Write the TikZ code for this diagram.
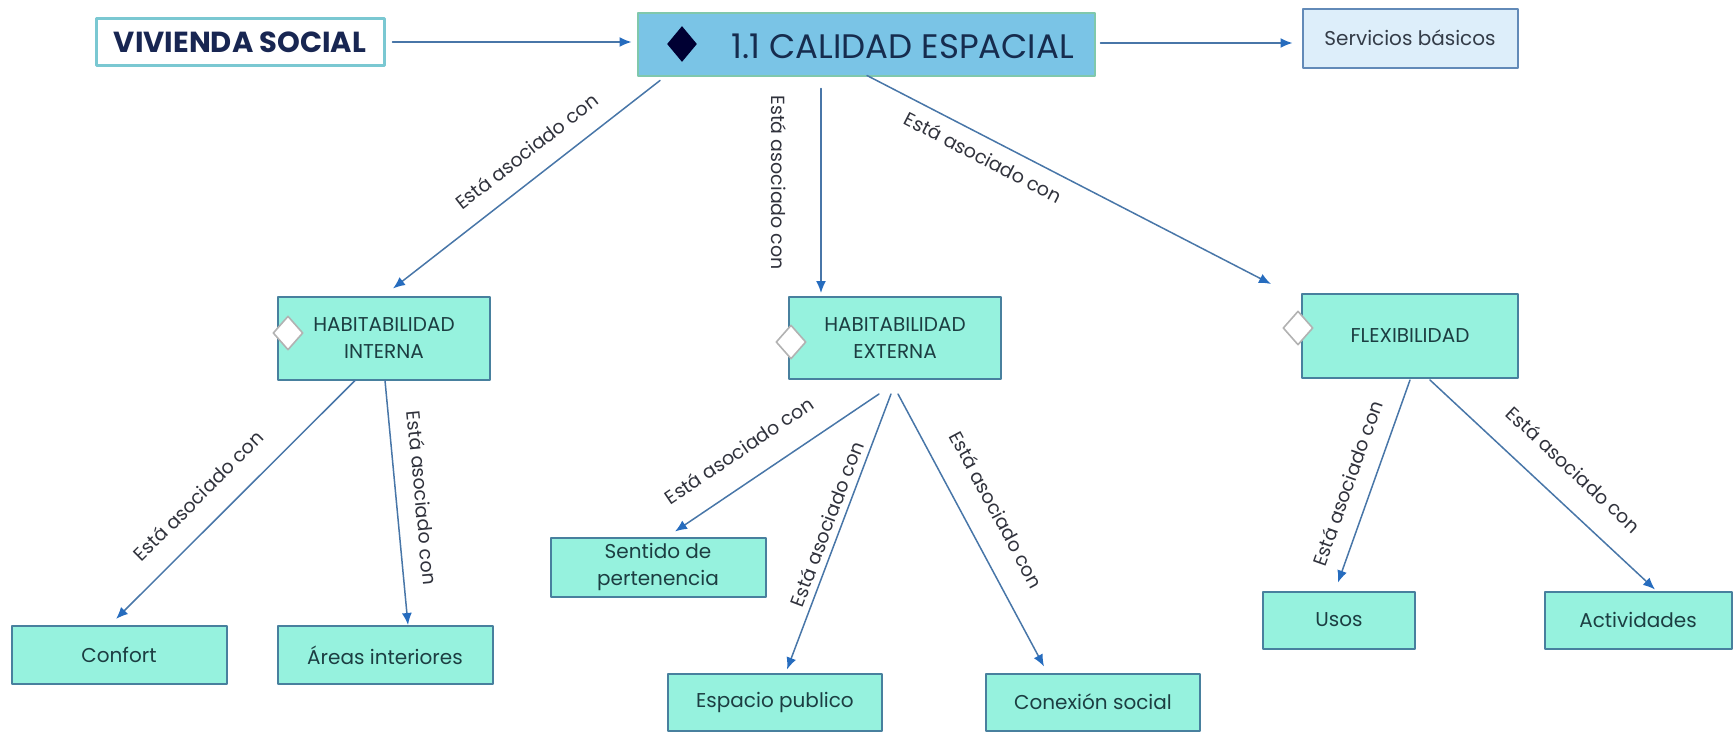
\documentclass[tikz,border=0pt]{standalone}
\usepackage{fontspec}
\setmainfont{Poppins}
\usetikzlibrary{arrows.meta}
\usetikzlibrary{shapes.geometric}
\usetikzlibrary{calc}

\definecolor{lineblue}{RGB}{72,118,168}
\definecolor{tipblue}{RGB}{38,108,190}
\definecolor{aqua}{RGB}{150,242,222}
\definecolor{boxedge}{RGB}{72,128,158}
\definecolor{tealtext}{RGB}{28,62,66}
\definecolor{calblue}{RGB}{122,196,230}
\definecolor{caledge}{RGB}{128,200,172}
\definecolor{caltext}{RGB}{22,44,78}
\definecolor{vivedge}{RGB}{122,200,210}
\definecolor{navy}{RGB}{24,38,82}
\definecolor{servfill}{RGB}{221,238,250}
\definecolor{servedge}{RGB}{98,138,184}
\definecolor{servtext}{RGB}{52,60,72}
\definecolor{labelgray}{RGB}{48,50,60}

\begin{document}
\begin{tikzpicture}[line cap=round,line join=round, x=0.5pt,y=-0.5pt,
  aquabox/.style={draw=boxedge, fill=aqua, line width=1pt, text=tealtext,
    font=\fontsize{10}{13.5}\selectfont, align=center, inner sep=0pt},
  opendiamond/.style={diamond, draw=black!30, fill=white, line width=0.8pt,
    minimum width=15pt, minimum height=17pt, inner sep=0pt},
  link/.style={draw=lineblue, line width=0.75pt,
    -{Latex[length=6pt, width=5pt, color=tipblue]}},
  rel/.style={font=\fontsize{9.5}{11}\selectfont, text=labelgray, inner sep=0pt, sloped}]
\useasboundingbox (0,0) rectangle (1736,734);

% top row
\node[draw=vivedge, line width=1.5pt, fill=white, minimum width=144pt, minimum height=23.5pt,
  font=\fontsize{14.5}{17}\selectfont\bfseries, text=navy] (viv) at (240,42) {VIVIENDA SOCIAL};
\node[fill=calblue, draw=caledge, line width=1pt, minimum width=228.5pt, minimum height=31.5pt] (cal) at (866,44) {};
\node[diamond, fill=black!80!blue, minimum width=15pt, minimum height=18pt, inner sep=0pt] (calmark) at (682,44) {};
\node[font=\fontsize{17}{20}\selectfont, text=caltext, anchor=west, inner sep=0pt] (caltxt) at (731,46) {1.1 CALIDAD ESPACIAL};
\node[fill=servfill, draw=servedge, line width=1pt, minimum width=107.5pt, minimum height=29.5pt,
  font=\fontsize{10}{12}\selectfont, text=servtext] (serv) at (1410,38) {Servicios básicos};

% second row
\node[aquabox, minimum width=106pt, minimum height=41.5pt] (habint) at (384,338) {HABITABILIDAD\\INTERNA};
\node[aquabox, minimum width=106pt, minimum height=41pt] (habext) at (895,338) {HABITABILIDAD\\EXTERNA};
\node[aquabox, minimum width=108pt, minimum height=42pt] (flex) at (1410,336) {FLEXIBILIDAD};
\node[opendiamond] (intmark) at ($(habint.west)+(11,-5)$) {};
\node[opendiamond] (extmark) at ($(habext.west)+(3,4)$) {};
\node[opendiamond] (flexmark) at ($(flex.west)+(-3,-8)$) {};

% bottom row
\node[aquabox, minimum width=107.5pt, minimum height=29pt] (confort) at (119,655) {Confort};
\node[aquabox, minimum width=107.5pt, minimum height=29pt] (areas) at (385,655) {Áreas interiores};
\node[aquabox, minimum width=107.5pt, minimum height=29.5pt] (sentido) at (658,567) {Sentido de\\pertenencia};
\node[aquabox, minimum width=107pt, minimum height=28.5pt] (espacio) at (775,702) {Espacio publico};
\node[aquabox, minimum width=107pt, minimum height=28.5pt] (conexion) at (1093,702) {Conexión social};
\node[aquabox, minimum width=76pt, minimum height=28.5pt] (usos) at (1339,620) {Usos};
\node[aquabox, minimum width=93.5pt, minimum height=28.5pt] (activ) at (1638,620) {Actividades};

% connectors
\draw[link] ($(viv.east)+(7,0)$) -- ($(cal.west |- viv.east)+(-5,0)$);
\draw[link] ($(cal.east)+(5,-1)$) -- ($(serv.west |- cal.east)+(-9,-1)$);
\draw[link] ($(cal.south)+(-206,4)$) -- node[rel, pos=.44, above=9pt] {Está asociado con} ($(habint.north)+(9,-7)$);
\draw[link] ($(cal.south)+(-45,12)$) -- node[rel, pos=.46, below=17pt] {Está asociado con} ($(habext.north)+(-74,-3)$);
\draw[link] ($(cal.south)+(1,-1)$) -- node[rel, pos=.31, below=5.5pt] {Está asociado con} ($(flex.north)+(-139,-9)$);
\draw[link] ($(habint.south)+(-29,0)$) -- node[rel, pos=.57, above=10.5pt] {Está asociado con} ($(confort.north)+(-3,-6)$);
\draw[link] ($(habint.south)+(1,0)$) -- node[rel, pos=.49, above=9pt] {Está asociado con} ($(areas.north)+(23,0)$);
\draw[link] ($(habext.south)+(-16,14)$) -- node[rel, pos=.6, above=11.5pt] {Está asociado con} ($(sentido.north)+(17,-5)$);
\draw[link] ($(habext.south)+(-4,14)$) -- node[rel, pos=.49, above=3pt] {Está asociado con} ($(espacio.north)+(12,-3)$);
\draw[link] ($(habext.south)+(3,14)$) -- node[rel, pos=.48, above=12pt] {Está asociado con} ($(conexion.north)+(-49,-6)$);
\draw[link] ($(flex.south)+(0,1)$) -- node[rel, pos=.55, above=8pt] {Está asociado con} ($(usos.north)+(-1,-8)$);
\draw[link] ($(flex.south)+(20,1)$) -- node[rel, pos=.54, above=12pt] {Está asociado con} ($(activ.north)+(17,-1)$);
\end{tikzpicture}
\end{document}
